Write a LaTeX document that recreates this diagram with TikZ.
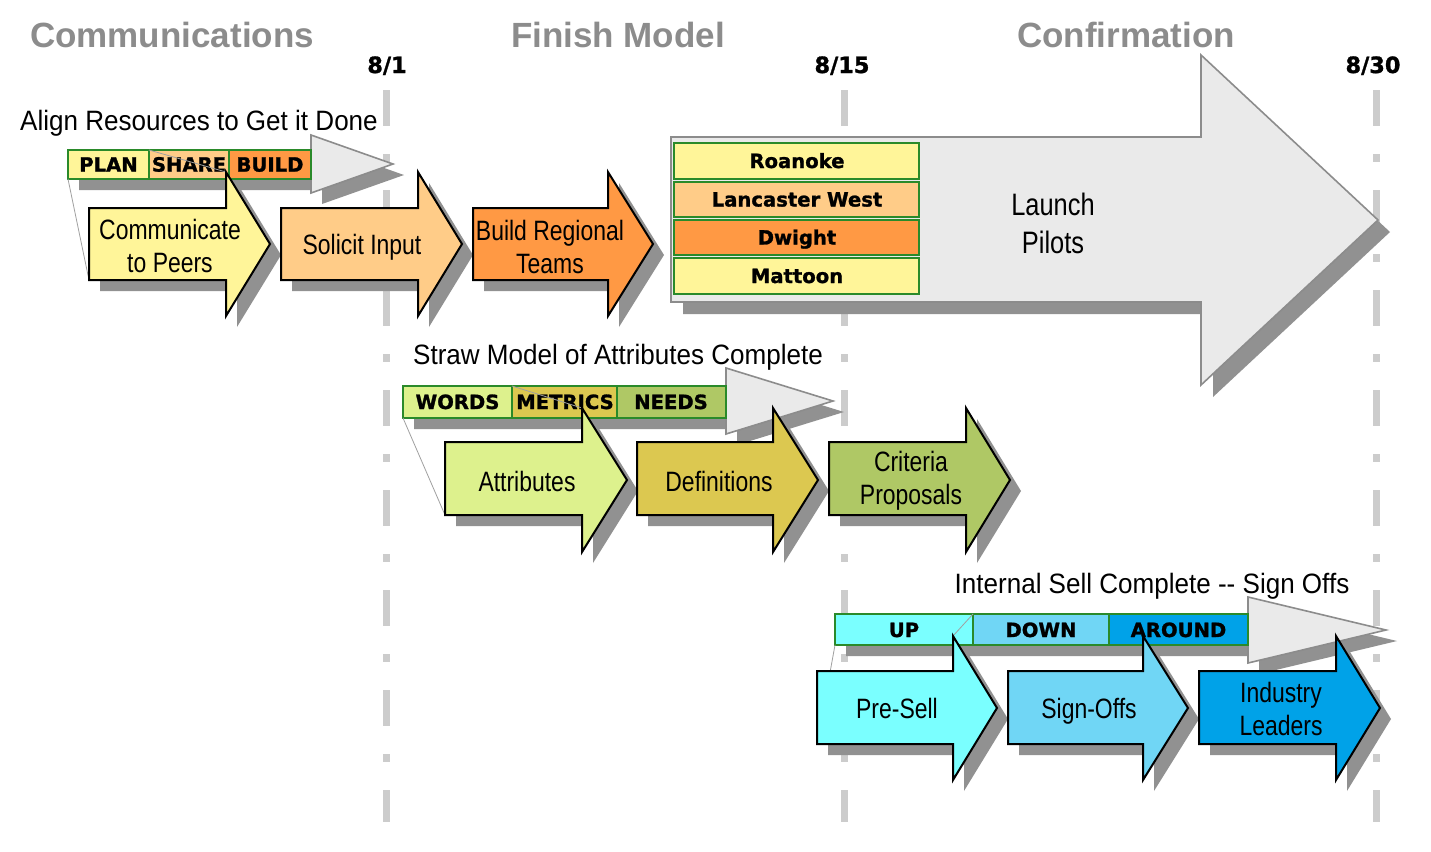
\documentclass[tikz,border=0pt]{standalone}
\usepackage{fontspec}
\setmainfont{Liberation Sans}
\newfontfamily\labf[FakeStretch=0.82]{Liberation Sans}
\newfontfamily\titf[FakeStretch=0.93]{Liberation Sans}
\newfontfamily\heavyf{DejaVu Sans}[BoldFeatures={FakeBold=1.3}]
\definecolor{cyel}{HTML}{FFF599}
\definecolor{corL}{HTML}{FFCC88}
\definecolor{corD}{HTML}{FF9944}
\definecolor{cgrL}{HTML}{DDF18D}
\definecolor{cgold}{HTML}{DCC850}
\definecolor{cgrM}{HTML}{AFC865}
\definecolor{ccyan}{HTML}{7AFFFF}
\definecolor{cbluL}{HTML}{70D6F5}
\definecolor{cbluD}{HTML}{00A2E8}
\definecolor{cgfill}{HTML}{EAEAEA}
\definecolor{cgedge}{HTML}{8C8C8C}
\definecolor{cshad}{HTML}{919191}
\definecolor{cgreen}{HTML}{2A8A2A}
\definecolor{cdash}{HTML}{CCCCCC}
\definecolor{chead}{HTML}{8C8C8C}
\definecolor{ccall}{HTML}{A0A0A0}
% #1 fill, #2 L, #3 H, #4 T, #5 body top, #6 body bottom, #7 head top, #8 head bottom
\newcommand\fatarrow[8]{%
  \fill[shadowfill, shift={(11,11)}] (#2,#5) -- (#3,#5) -- (#3,#7) -- (#4,{(#7+#8)/2}) -- (#3,#8) -- (#3,#6) -- (#2,#6) -- cycle;
  \filldraw[blockarrow, fill=#1] (#2,#5) -- (#3,#5) -- (#3,#7) -- (#4,{(#7+#8)/2}) -- (#3,#8) -- (#3,#6) -- (#2,#6) -- cycle;
}
% #1 shadow offset, then as above
\newcommand\greyarrow[8]{%
  \fill[shadowfill, shift={(#1,#1)}] (#2,#5) -- (#3,#5) -- (#3,#7) -- (#4,{(#7+#8)/2}) -- (#3,#8) -- (#3,#6) -- (#2,#6) -- cycle;
  \filldraw[greyarrowst] (#2,#5) -- (#3,#5) -- (#3,#7) -- (#4,{(#7+#8)/2}) -- (#3,#8) -- (#3,#6) -- (#2,#6) -- cycle;
}
\tikzset{
  headtxt/.style={font=\bfseries\fontsize{17.5}{20}\selectfont, text=chead, anchor=base, inner sep=0pt},
  datetxt/.style={font=\heavyf\bfseries\fontsize{11.2}{13}\selectfont, anchor=base, inner sep=0pt},
  titletxt/.style={font=\titf\fontsize{14}{16}\selectfont, anchor=base, inner sep=0pt},
  celltxt/.style={font=\heavyf\bfseries\fontsize{9.8}{11}\selectfont, anchor=base, inner sep=0pt},
  arrtxt/.style={font=\labf\fontsize{14}{16.5}\selectfont, align=center, inner sep=0pt},
  arrtxtone/.style={font=\labf\fontsize{14}{16.5}\selectfont, anchor=base, inner sep=0pt},
  launchtxt/.style={font=\labf\fontsize{15.5}{19}\selectfont, align=center, inner sep=0pt},
  cellbox/.style={draw=cgreen, line width=1pt},
  greyarrowst/.style={fill=cgfill, draw=cgedge, line width=0.8pt, line join=miter},
  shadowfill/.style={fill=cshad},
  blockarrow/.style={draw=black, line width=1pt, line join=miter},
  callout/.style={draw=ccall, line width=0.4pt},
  timeline/.style={draw=cdash, line width=3.5pt, dash pattern=on 18pt off 14pt on 4pt off 14pt},
}
\begin{document}
\begin{tikzpicture}[x=0.5pt, y=-0.5pt]
\useasboundingbox[fill=white] (0,0) rectangle (1431,852);

% timelines
\coordinate (t1a) at (386,90);  \coordinate (t1b) at (386,822);
\coordinate (t2a) at (844,90);  \coordinate (t2b) at (844,822);
\coordinate (t3a) at (1376,90); \coordinate (t3b) at (1376,822);
\draw[timeline] (t1a) -- (t1b);
\draw[timeline] (t2a) -- (t2b);
\draw[timeline] (t3a) -- (t3b);

% headers and dates
\node[headtxt] (hcomm) at (172,47) {Communications};
\node[headtxt] (hfin) at (618,47) {Finish Model};
\node[headtxt] (hconf) at (1126,47) {Confirmation};
\node[datetxt] (d1) at (387,73) {8/1};
\node[datetxt] (d2) at (842,73) {8/15};
\node[datetxt] (d3) at (1373,73) {8/30};

% ---------------- Section 1
\node[titletxt] (title1) at (199,130.5) {Align Resources to Get it Done};
\greyarrow{11}{68}{311}{393}{150}{179}{135}{193}
\filldraw[cellbox, fill=cyel] (68,150) rectangle (149,179);
\filldraw[cellbox, fill=corL] (149,150) rectangle (229,179);
\filldraw[cellbox, fill=corD] (229,150) rectangle (311,179);
\node[celltxt] (plan) at (108.5,171.6) {PLAN};
\node[celltxt] (share) at (189,171.6) {SHARE};
\node[celltxt] (build) at (270,171.6) {BUILD};
\coordinate (c1a) at (68,179);  \coordinate (c1b) at (89,280);
\coordinate (c1c) at (149,150); \coordinate (c1d) at (226,172);
\draw[callout] (c1a) -- (c1b);
\draw[callout] (c1c) -- (c1d);
\fatarrow{cyel}{89}{226}{270}{208}{280}{172}{316}
\fatarrow{corL}{281}{418}{462}{208}{280}{172}{316}
\fatarrow{corD}{473}{608}{653}{208}{280}{172}{316}
\node[arrtxt] (comm) at (170,246) {Communicate\\to Peers};
\node[arrtxtone] (solicit) at (362,254) {Solicit Input};
\node[arrtxt] (bregion) at (550,247) {Build Regional\\Teams};

% Launch pilots
\greyarrow{12}{671}{1201}{1378}{137}{302}{55}{385}
\filldraw[cellbox, fill=cyel] (674,143) rectangle (919,179);
\filldraw[cellbox, fill=corL] (674,182) rectangle (919,217);
\filldraw[cellbox, fill=corD] (674,220) rectangle (919,255);
\filldraw[cellbox, fill=cyel] (674,258) rectangle (919,294);
\node[celltxt] (roanoke) at (797,168) {Roanoke};
\node[celltxt] (lancaster) at (797,206.5) {Lancaster West};
\node[celltxt] (dwight) at (797,244.5) {Dwight};
\node[celltxt] (mattoon) at (797,283) {Mattoon};
\node[launchtxt] (launch) at (1053,223) {Launch\\Pilots};

% ---------------- Section 2
\node[titletxt] (title2) at (618,364) {Straw Model of Attributes Complete};
\greyarrow{11}{403}{726}{833}{386}{418}{368}{434}
\filldraw[cellbox, fill=cgrL] (403,386) rectangle (512,418);
\filldraw[cellbox, fill=cgold] (512,386) rectangle (617,418);
\filldraw[cellbox, fill=cgrM] (617,386) rectangle (726,418);
\node[celltxt] (words) at (457.5,409) {WORDS};
\node[celltxt] (metrics) at (565,409) {METRICS};
\node[celltxt] (needs) at (671,409) {NEEDS};
\coordinate (c2a) at (403,418); \coordinate (c2b) at (445,515);
\coordinate (c2c) at (512,386); \coordinate (c2d) at (582,408);
\draw[callout] (c2a) -- (c2b);
\draw[callout] (c2c) -- (c2d);
\fatarrow{cgrL}{445}{582}{627}{442}{515}{408}{552}
\fatarrow{cgold}{637}{773}{818}{442}{515}{408}{552}
\fatarrow{cgrM}{829}{966}{1010}{442}{515}{408}{552}
\node[arrtxtone] (attr) at (527,491) {Attributes};
\node[arrtxtone] (defs) at (719,491) {Definitions};
\node[arrtxt] (crit) at (911,481) {Criteria\\Proposals};

% ---------------- Section 3
\node[titletxt] (title3) at (1152,593) {Internal Sell Complete -- Sign Offs};
\greyarrow{11}{835}{1248}{1386}{614}{645}{597}{663}
\filldraw[cellbox, fill=ccyan] (835,614) rectangle (973,645);
\filldraw[cellbox, fill=cbluL] (973,614) rectangle (1109,645);
\filldraw[cellbox, fill=cbluD] (1109,614) rectangle (1248,645);
\node[celltxt] (up) at (904,637) {UP};
\node[celltxt] (down) at (1041,637) {DOWN};
\node[celltxt] (around) at (1178.5,637) {AROUND};
\coordinate (c3a) at (835,645); \coordinate (c3b) at (817,744);
\coordinate (c3c) at (973,614); \coordinate (c3d) at (953,636);
\draw[callout] (c3a) -- (c3b);
\draw[callout] (c3c) -- (c3d);
\fatarrow{ccyan}{817}{953}{997}{671}{744}{636}{780}
\fatarrow{cbluL}{1008}{1143}{1188}{671}{744}{636}{780}
\fatarrow{cbluD}{1199}{1336}{1380}{671}{744}{636}{780}
\node[arrtxtone] (presell) at (897,718) {Pre-Sell};
\node[arrtxtone] (signoffs) at (1089,718) {Sign-Offs};
\node[arrtxt] (industry) at (1281,709) {Industry\\Leaders};
\end{tikzpicture}
\end{document}
